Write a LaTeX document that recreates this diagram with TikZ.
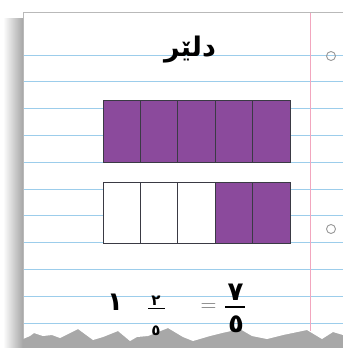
\documentclass[tikz,border=0pt]{standalone}
\usepackage{fontspec}
\TeXXeTstate=1
\newfontfamily\arabicfont[Script=Arabic]{DejaVu Sans}
\definecolor{purp}{HTML}{8B4A9C}
\definecolor{bluel}{HTML}{9CCDEB}
\definecolor{redl}{HTML}{F2A6BE}
\definecolor{cellline}{HTML}{3A3A44}
\begin{document}
\begin{tikzpicture}[x=1pt,y=-1pt,
  ruled/.style={draw=bluel,line width=1pt},
  margin/.style={draw=redl,line width=0.9pt},
  hole/.style={draw=gray!80,line width=0.9pt},
  cellbase/.style={draw=cellline,line width=1pt,inner sep=0pt,outer sep=0pt,minimum width=37.4pt},
  cellp/.style={cellbase,fill=purp},
  cellw/.style={cellbase,fill=white},
  toprow/.style={minimum height=62pt},
  botrow/.style={minimum height=61pt},
  digit/.style={inner sep=0pt,font=\arabicfont\bfseries\fontsize{26}{28}\selectfont},
  smalldigit/.style={inner sep=0pt,font=\arabicfont\bfseries\fontsize{15}{17}\selectfont},
  fracbar/.style={draw=black,line width=1.1pt}]
\useasboundingbox (0,0) rectangle (343,348);
\fill[white] (0,0) rectangle (343,348);
% shadow
\shade[left color=white,right color=gray!70] (3,18) rectangle (23,348);
\fill[gray!68] (23,322) rectangle (343,348);
% paper
\fill[white] (23,12) -- (343,12) -- (343,335) -- (333,332) -- (322,339) -- (307,330) -- (283,335) -- (267,339) -- (252,336) -- (240,329) -- (222,333) -- (210,336) -- (193,341) -- (183,337) -- (168,328) -- (148,336) -- (137,337) -- (130,341) -- (118,331) -- (103,337) -- (93,340) -- (78,329) -- (60,338) -- (52,335) -- (43,336) -- (34,333) -- (30,336) -- (23,339) -- cycle;
\draw[gray!55,line width=1pt] (23,339) -- (23,12.5) -- (343,12.5);
% ruled lines
\foreach \y in {55,81.8,108.6,135.4,162.2,189,215.8,242.6,269.4,296.2,323}
  \draw[ruled] (23.5,\y) -- (343,\y);
\draw[margin] (310,13) -- (310,331);
\draw[hole] (331,56) circle (4.5);
\draw[hole] (331,229) circle (4.5);
% title
\node[inner sep=0pt,font=\arabicfont\bfseries\fontsize{27}{30}\selectfont] (title) at (190,50) {\beginR دلێر\endR};
% bars
\foreach \i in {1,...,5}
  \node[cellp,toprow] (t\i) at (103+37.4*\i-18.7,131) {};
\foreach \i in {1,2,3}
  \node[cellw,botrow] (b\i) at (103+37.4*\i-18.7,212.5) {};
\foreach \i in {4,5}
  \node[cellp,botrow] (b\i) at (103+37.4*\i-18.7,212.5) {};
% equation
\node[digit] (one) at (115,302) {١};
\node[smalldigit] (n1) at (156,301) {٢};
\node[smalldigit] (d1) at (156,331) {٥};
\coordinate (b1l) at (148,308);
\coordinate (b1r) at (165,308);
\draw[fracbar,line width=1pt] (b1l) -- (b1r);
\node[inner sep=0pt,text=gray!90!black,font=\fontsize{22}{24}\selectfont] (eq) at (208.5,307.5) {=};
\node[digit] (n2) at (235.5,292) {٧};
\node[digit] (d2) at (236,324) {٥};
\coordinate (b2l) at (225,307);
\coordinate (b2r) at (245,307);
\draw[fracbar] (b2l) -- (b2r);
\end{tikzpicture}
\end{document}
